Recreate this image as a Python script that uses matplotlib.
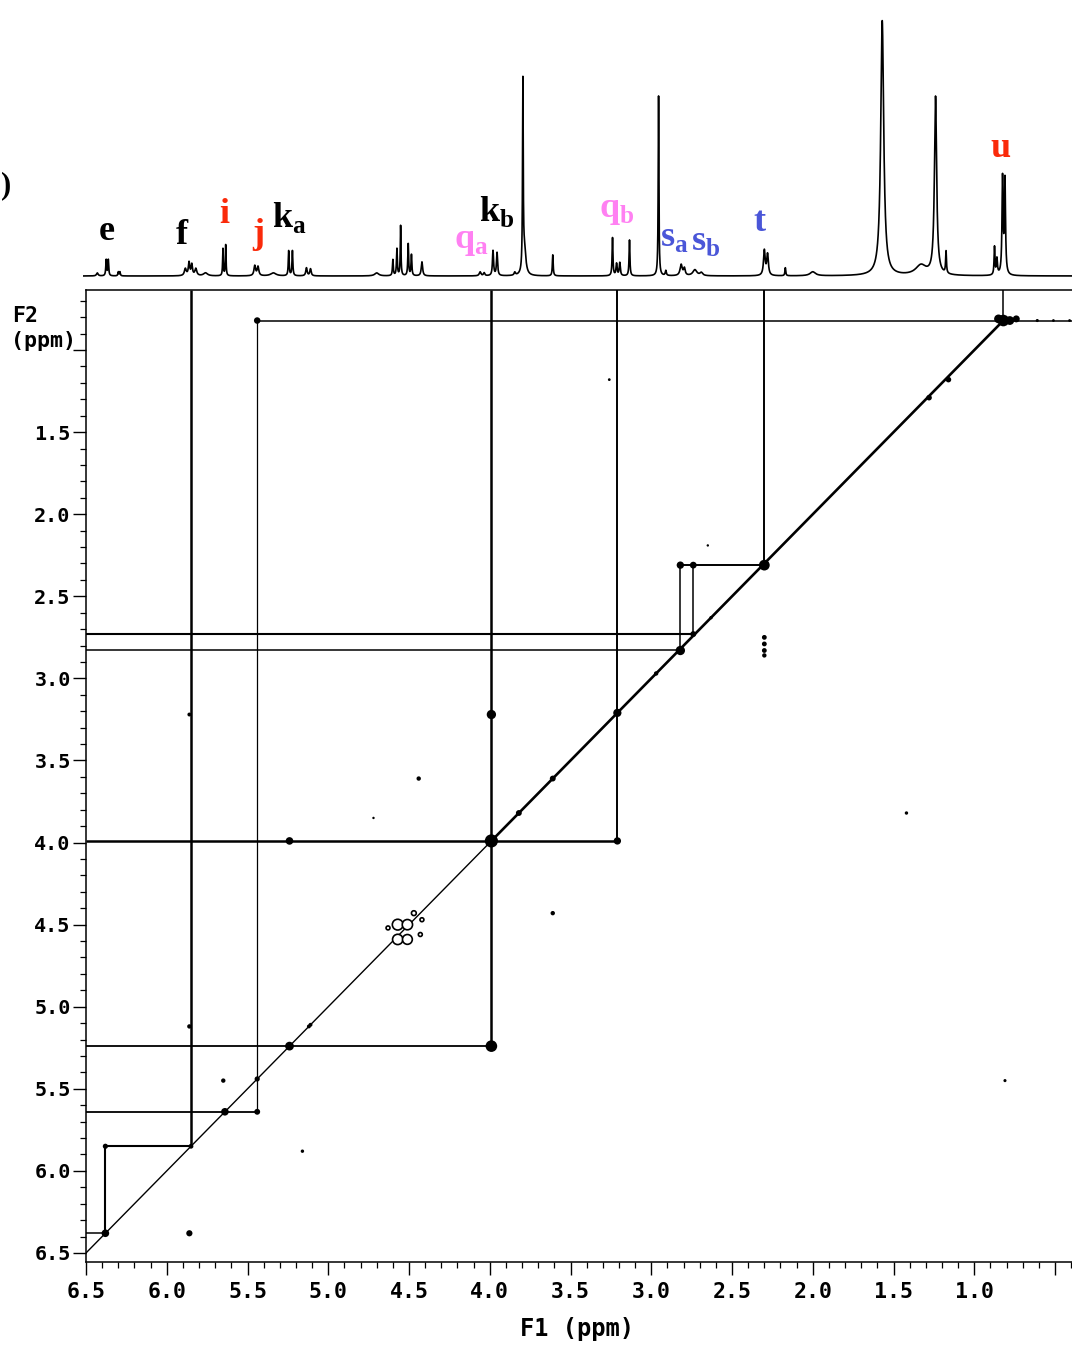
import numpy as np
import matplotlib
matplotlib.use("Agg")
import matplotlib.pyplot as plt
from matplotlib.ticker import MultipleLocator, FixedLocator

plt.rcParams['mathtext.fontset'] = 'custom'
plt.rcParams['mathtext.bf'] = 'Liberation Serif:bold'
plt.rcParams['mathtext.rm'] = 'Liberation Serif:bold'

W, H = 1072, 1345

# ---- 1D proton trace shown above the map (ppm, height in px, half width in ppm)
peak_ppm = [6.43, 6.375, 6.362, 6.30, 6.29,
            5.885, 5.862, 5.845, 5.82, 5.76,
            5.652, 5.635, 5.455, 5.435, 5.34,
            5.245, 5.222, 5.135, 5.11, 4.70,
            4.60, 4.575, 4.552, 4.505, 4.485, 4.42,
            4.06, 4.035, 3.98, 3.955, 3.845, 3.795, 3.785, 3.61,
            3.24, 3.215, 3.195, 3.135, 2.955, 2.91,
            2.815, 2.795, 2.73, 2.69,
            2.30, 2.28, 2.17, 2.00,
            1.57, 1.33, 1.24, 1.175,
            0.875, 0.86, 0.825, 0.81]
peak_height = [3, 16, 16, 4, 4,
               7, 13, 11, 7, 3,
               27, 31, 10, 9, 3,
               25, 25, 8, 7, 3,
               16, 27, 50, 32, 21, 14,
               4, 3, 25, 23, 3, 188, 25, 21,
               38, 12, 13, 36, 181, 5,
               11, 7, 6, 3,
               25, 21, 8, 4,
               255, 10, 178, 22,
               28, 16, 96, 94]
peak_width = [0.006, 0.003, 0.003, 0.003, 0.003,
              0.007, 0.005, 0.005, 0.007, 0.015,
              0.0025, 0.0025, 0.006, 0.006, 0.02,
              0.003, 0.003, 0.005, 0.005, 0.015,
              0.003, 0.003, 0.0025, 0.003, 0.003, 0.005,
              0.006, 0.005, 0.004, 0.004, 0.005, 0.0025, 0.01, 0.003,
              0.003, 0.004, 0.004, 0.003, 0.0025, 0.004,
              0.008, 0.006, 0.015, 0.01,
              0.006, 0.006, 0.003, 0.02,
              0.011, 0.04, 0.008, 0.003,
              0.003, 0.004, 0.004, 0.004]

# ---- assignment labels on the trace
label_text = [r'$\mathbf{e}$', r'$\mathbf{f}$', r'$\mathbf{i}$', r'$\mathbf{j}$',
              r'$\mathbf{k}_\mathbf{a}$', r'$\mathbf{q}_\mathbf{a}$',
              r'$\mathbf{k}_\mathbf{b}$', r'$\mathbf{q}_\mathbf{b}$',
              r'$\mathbf{s}_\mathbf{a}$', r'$\mathbf{s}_\mathbf{b}$',
              r'$\mathbf{t}$', r'$\mathbf{u}$']
label_ppm = [6.37, 5.905, 5.64, 5.435, 5.24, 4.115, 3.96, 3.215, 2.86, 2.66, 2.33, 0.84]
label_height = [36, 32, 53, 33, 49, 28, 55, 59, 30, 26, 45, 119]
black, red, pink, blue = 'black', '#fa2a0a', '#ff80f2', '#4a56d8'
label_color = [black, black, red, red, black, pink, black, pink, blue, blue, blue, red]

# ---- chemical shifts used for the COSY connections (ppm)
e, f, i, j, ka, kb = 6.38, 5.85, 5.64, 5.44, 5.24, 3.99
qb, sa, sb, t, u = 3.21, 2.82, 2.74, 2.30, 0.82
sa_h, sb_h, t_h = 2.83, 2.73, 2.31
f1_left, f1_right = 6.5, 0.395
f2_top, f2_bottom = 0.634, 6.555

# connection segments: F1 start, F2 start, F1 end, F2 end, width
segments = [
    (f1_left, e, e, e, 1.1), (e, e, e, f, 1.5), (e, f, f, f, 1.5),
    (f, f2_top, f, f, 1.8),
    (j, u, j, i, 0.9), (f1_left, i, j, i, 1.3), (j, u, f1_right, u, 1.1),
    (kb, f2_top, kb, ka, 1.8), (f1_left, ka, kb, ka, 1.3),
    (f1_left, kb, qb, kb, 1.8), (qb, f2_top, qb, kb, 1.4),
    (t, f2_top, t, t_h, 1.4), (sa, t_h, t, t_h, 1.4),
    (sa, t_h, sa, sa_h, 1.1), (sb, t_h, sb, sb_h, 1.1),
    (f1_left, sa_h, sa, sa_h, 1.1), (f1_left, sb_h, sb, sb_h, 1.5),
    (u, f2_top, u, u, 1.1),
]

# cross / diagonal peaks: F1, F2, marker size
cross_f1 = [6.38, 5.85, 5.64, 5.44, 5.24, 3.99, 3.82, 3.61, 3.21, 2.97, 2.82, 2.74, 2.30,
            2.63, 1.28, 1.16, 5.11,
            6.38, 5.86, 5.44, 5.44, 5.65, 5.16, 5.12, 5.86, 5.86,
            3.99, 5.24, 3.99, 3.21, 4.44, 3.61, 4.72,
            2.82, 2.74, 2.30, 2.30, 2.30, 2.30, 2.65, 3.26, 1.42, 0.81,
            0.85, 0.82, 0.78, 0.74, 0.61, 0.51, 0.41]
cross_f2 = [6.38, 5.85, 5.64, 5.44, 5.24, 3.99, 3.82, 3.61, 3.21, 2.97, 2.83, 2.73, 2.31,
            2.63, 1.29, 1.18, 5.11,
            5.85, 6.38, 5.64, 0.82, 5.45, 5.88, 5.12, 5.12, 3.22,
            5.24, 3.99, 3.22, 3.99, 3.61, 4.43, 3.85,
            2.31, 2.31, 2.75, 2.79, 2.83, 2.86, 2.19, 1.18, 3.82, 5.45,
            0.81, 0.82, 0.82, 0.81, 0.82, 0.82, 0.82]
cross_size = [30, 12, 30, 14, 40, 90, 18, 18, 35, 10, 45, 18, 60,
              6, 16, 16, 8,
              14, 20, 18, 22, 10, 6, 8, 10, 8,
              70, 30, 45, 28, 10, 10, 3,
              28, 24, 12, 12, 12, 10, 3, 4, 6, 5,
              40, 70, 40, 25, 5, 4, 4]

# 4.5 ppm multiplet cluster (drawn hollow)
clus_f1 = [4.57, 4.51, 4.57, 4.51, 4.63, 4.42, 4.43, 4.47]
clus_f2 = [4.50, 4.50, 4.59, 4.59, 4.52, 4.47, 4.56, 4.43]
clus_size = [60, 55, 55, 50, 8, 8, 8, 12]

fig = plt.figure(figsize=(W / 100, H / 100), dpi=100)
ax = fig.add_axes([86 / W, 83 / H, 986 / W, 972 / H])
top = fig.add_axes([83 / W, 1055 / H, 989 / W, 290 / H])

# ---- 1D trace
ppm = np.arange(6.52, 0.39, -0.0004)
trace = np.zeros_like(ppm)
for p0, h0, w0 in zip(peak_ppm, peak_height, peak_width):
    trace += h0 / (1 + ((ppm - p0) / w0) ** 2)
top.plot(ppm, trace, color='black', lw=1.2)
top.set_xlim(6.5 + 3 / 161.5, f1_right)
top.set_ylim(-14, 276)
top.axis('off')
for txt, x0, y0, c in zip(label_text, label_ppm, label_height, label_color):
    top.text(x0, y0, txt, color=c, fontsize=26, ha='center', va='baseline')

fig.text(1 / W, 1 - 193 / H, ')', fontsize=22, family='Liberation Serif',
         weight='bold', va='baseline')

# ---- 2D map
for x0, y0, x1, y1, lw in segments:
    ax.plot([x0, x1], [y0, y1], color='black', lw=lw, solid_capstyle='butt')
ax.plot([f1_left, kb], [f1_left, kb], color='black', lw=1.0)
ax.plot([kb, u], [kb, u], color='black', lw=1.9)
ax.scatter(cross_f1, cross_f2, s=cross_size, color='black', zorder=3, linewidths=0)
ax.scatter(clus_f1, clus_f2, s=clus_size, facecolor='white', edgecolor='black',
           linewidths=1.2, zorder=3)

ax.set_xlim(f1_left, f1_right)
ax.set_ylim(f2_bottom, f2_top)
ax.spines['right'].set_visible(False)
for s in ['left', 'top', 'bottom']:
    ax.spines[s].set_linewidth(1.1)

xt = [6.5, 6.0, 5.5, 5.0, 4.5, 4.0, 3.5, 3.0, 2.5, 2.0, 1.5, 1.0, 0.5]
ax.xaxis.set_major_locator(FixedLocator(xt))
ax.set_xticklabels([f"{v:.1f}" if v >= 1.0 else '' for v in xt])
ax.xaxis.set_minor_locator(MultipleLocator(0.1))
yt = [1.0, 1.5, 2.0, 2.5, 3.0, 3.5, 4.0, 4.5, 5.0, 5.5, 6.0, 6.5]
ax.yaxis.set_major_locator(FixedLocator(yt))
ax.set_yticklabels([f"{v:.1f}" if v > 1.0 else '' for v in yt])
ax.yaxis.set_minor_locator(MultipleLocator(0.1))

ax.tick_params(which='major', direction='out', length=9.5, width=1.0)
ax.tick_params(which='minor', direction='out', length=4.5, width=0.9)
ax.tick_params(axis='x', which='major', pad=5)
ax.tick_params(axis='y', which='major', pad=1.5)
for lab in ax.get_xticklabels():
    lab.set_family('DejaVu Sans Mono')
    lab.set_weight('bold')
    lab.set_fontsize(15.5)
for lab in ax.get_yticklabels():
    lab.set_family('DejaVu Sans Mono')
    lab.set_weight('bold')
    lab.set_fontsize(14.5)

fig.text(12 / W, 1 - 322 / H, 'F2', family='DejaVu Sans Mono', weight='bold',
         fontsize=15.5, va='baseline')
fig.text(11 / W, 1 - 347 / H, '(ppm)', family='DejaVu Sans Mono', weight='bold',
         fontsize=15.5, va='baseline')
fig.text(577 / W, 1 - 1336 / H, 'F1 (ppm)', family='DejaVu Sans Mono', weight='bold',
         fontsize=17, ha='center', va='baseline')

fig.savefig('out.png', dpi=100)
